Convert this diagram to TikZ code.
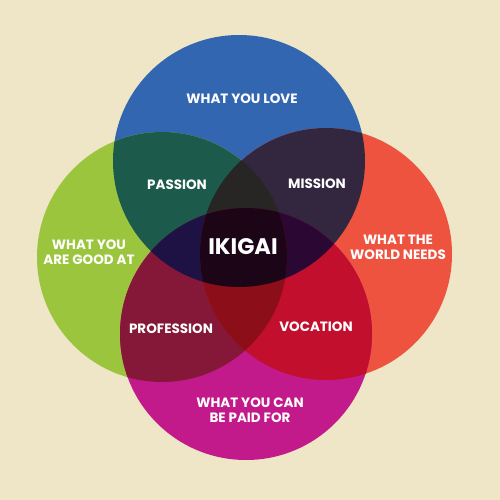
\documentclass[tikz,border=0pt]{standalone}
\usepackage{fontspec}
\setmainfont{Poppins}
\definecolor{bg}{HTML}{EEE6C6}
\definecolor{cB}{HTML}{3366B0}
\definecolor{cG}{HTML}{9BC53D}
\definecolor{cR}{HTML}{EE5340}
\definecolor{cM}{HTML}{C21A8A}
\definecolor{cBG}{HTML}{1C5B4B}
\definecolor{cBR}{HTML}{33263F}
\definecolor{cBM}{HTML}{1E1245}
\definecolor{cGR}{HTML}{272624}
\definecolor{cGM}{HTML}{851838}
\definecolor{cRM}{HTML}{C20F2E}
\definecolor{cBGR}{HTML}{272624}
\definecolor{cBGM}{HTML}{1E1245}
\definecolor{cBRM}{HTML}{2A0833}
\definecolor{cGRM}{HTML}{8B0E18}
\definecolor{cALL}{HTML}{1C0516}
\begin{document}
\begin{tikzpicture}[x=1pt,y=-1pt,
  lbl/.style={text=white,font=\bfseries\fontsize{13.5}{15}\selectfont,align=center,inner sep=0pt},
  big/.style={text=white,font=\bfseries\fontsize{22.5}{24}\selectfont,inner sep=0pt}]
\def\circB{(239,161) circle[radius=126pt]}
\def\circG{(162,257) circle[radius=125pt]}
\def\circR{(326,254) circle[radius=126pt]}
\def\circM{(246,334) circle[radius=126pt]}
\fill[bg] (0,0) rectangle (500,500);
% single circles
\fill[cB] \circB;
\fill[cG] \circG;
\fill[cR] \circR;
\fill[cM] \circM;
% pairs
\begin{scope}\clip \circB; \fill[cBG] \circG; \end{scope}
\begin{scope}\clip \circB; \fill[cBR] \circR; \end{scope}
\begin{scope}\clip \circB; \fill[cBM] \circM; \end{scope}
\begin{scope}\clip \circG; \fill[cGR] \circR; \end{scope}
\begin{scope}\clip \circG; \fill[cGM] \circM; \end{scope}
\begin{scope}\clip \circR; \fill[cRM] \circM; \end{scope}
% triples
\begin{scope}\clip \circB; \clip \circG; \fill[cBGR] \circR; \end{scope}
\begin{scope}\clip \circB; \clip \circG; \fill[cBGM] \circM; \end{scope}
\begin{scope}\clip \circB; \clip \circR; \fill[cBRM] \circM; \end{scope}
\begin{scope}\clip \circG; \clip \circR; \fill[cGRM] \circM; \end{scope}
% all four
\begin{scope}\clip \circB; \clip \circG; \clip \circR; \fill[cALL] \circM; \end{scope}
% labels
\node[lbl] (love) at (242,99) {WHAT YOU LOVE};
\node[lbl] (passion) at (177,185) {PASSION};
\node[lbl] (mission) at (317,184) {MISSION};
\node[lbl] (good) at (89,252) {WHAT YOU\\ARE GOOD AT};
\node[big] (ikigai) at (243,247) {IKIGAI};
\node[lbl] (world) at (398,247) {WHAT THE\\WORLD NEEDS};
\node[lbl] (profession) at (171,329) {PROFESSION};
\node[lbl] (vocation) at (316,327) {VOCATION};
\node[lbl] (paid) at (250,410) {WHAT YOU CAN\\BE PAID FOR};
\end{tikzpicture}
\end{document}
